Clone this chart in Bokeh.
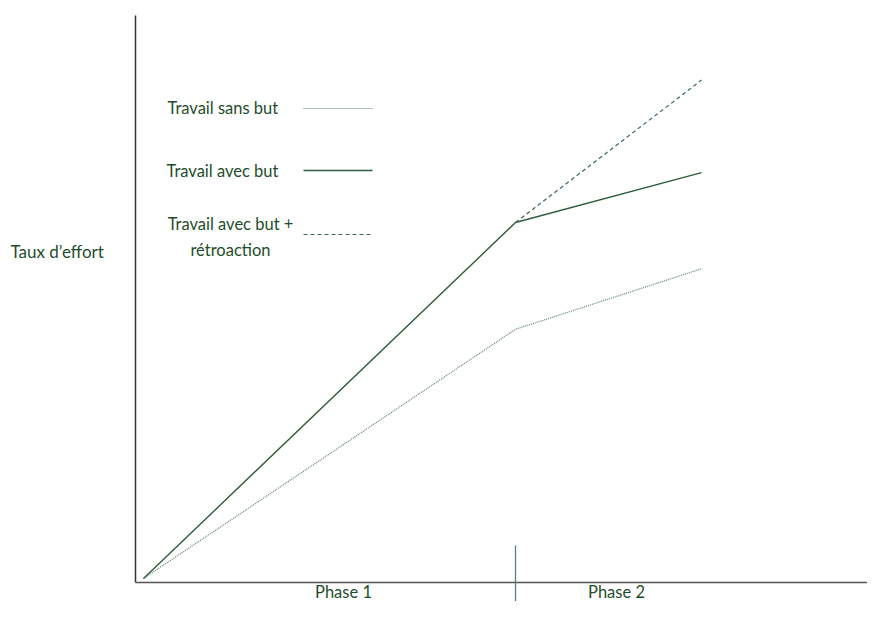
from bokeh.plotting import figure
from bokeh.models import Label
from bokeh.embed import file_html
from bokeh.resources import INLINE

# ---- data ----
phases = ["Phase 1", "Phase 2"]
x_time = [0.0, 1.0, 1.5]
effort_sans_but = [0, 70, 87]
effort_avec_but = [0, 100, 114]
x_retro = [1.0, 1.5]
effort_retro = [100, 140]
series_labels = ["Travail sans but", "Travail avec but", "Travail avec but +\nrétroaction"]
y_label = "Taux d\u2019effort"

# ---- layout helpers (image pixels -> data units) ----
W, H = 867, 601
PX_X, PX_Y = 372.0, 3.56
def dx(img_x):
    return (img_x - 143) / PX_X
def dy(img_y):
    return (578 - img_y) / PX_Y

TEXT = "#1e4d2b"
FONT = "Lato"
FS = "16.5px"

p = figure(width=W, height=H, output_backend="svg", toolbar_location=None,
           x_range=(dx(0), dx(W)), y_range=(dy(H), dy(0)),
           min_border=0, min_border_left=0, min_border_right=0,
           min_border_top=0, min_border_bottom=0)
p.axis.visible = False
p.grid.visible = False
p.outline_line_color = None
p.background_fill_color = "white"
p.border_fill_color = "white"

# axes drawn as lines
p.segment(x0=[dx(135)], y0=[dy(15)], x1=[dx(135)], y1=[dy(582)],
          line_color="#333333", line_width=1.5)
p.segment(x0=[dx(135)], y0=[dy(582)], x1=[dx(880)], y1=[dy(582)],
          line_color="#555555", line_width=1.3)
# phase divider at phase boundary
p.segment(x0=[x_time[1]], y0=[dy(545)], x1=[x_time[1]], y1=[dy(620)],
          line_color="#5f7d6b", line_width=1.3)

# series
DOT = dict(line_color="#5f8470", line_width=1.2, line_dash="1 1")
SOLID = dict(line_color="#2d5e3b", line_width=1.4)
DASH = dict(line_color="#3b6b4b", line_width=1.2, line_dash="4 3")
p.line(x_time, effort_sans_but, **DOT)
p.line(x_time, effort_avec_but, **SOLID)
p.line(x_retro, effort_retro, **DASH)

# legend (manual)
leg_y = [108, 170, 234]
leg_text_y = [107, 170, 236]
leg_text_x = [167, 166, 230]
leg_align = ["left", "left", "center"]
styles = [DOT, SOLID, DASH]
for lbl, ly, ty, tx, al, st in zip(series_labels, leg_y, leg_text_y, leg_text_x, leg_align, styles):
    p.segment(x0=[dx(303)], y0=[dy(ly)], x1=[dx(372)], y1=[dy(ly)], **st)
    p.add_layout(Label(x=dx(tx), y=dy(ty), text=lbl, text_align=al,
                       text_baseline="middle", text_color=TEXT,
                       text_font=FONT, text_font_size=FS, text_line_height=1.3))

# axis labels
p.add_layout(Label(x=dx(10), y=dy(251), text=y_label, text_align="left",
                   text_baseline="middle", text_color=TEXT,
                   text_font=FONT, text_font_size="17px"))
phase_x = [dx(343), dx(616)]
for ph, px in zip(phases, phase_x):
    p.add_layout(Label(x=px, y=dy(591), text=ph, text_align="center",
                       text_baseline="middle", text_color=TEXT,
                       text_font=FONT, text_font_size=FS))

open("out.html", "w").write(file_html(p, INLINE))
